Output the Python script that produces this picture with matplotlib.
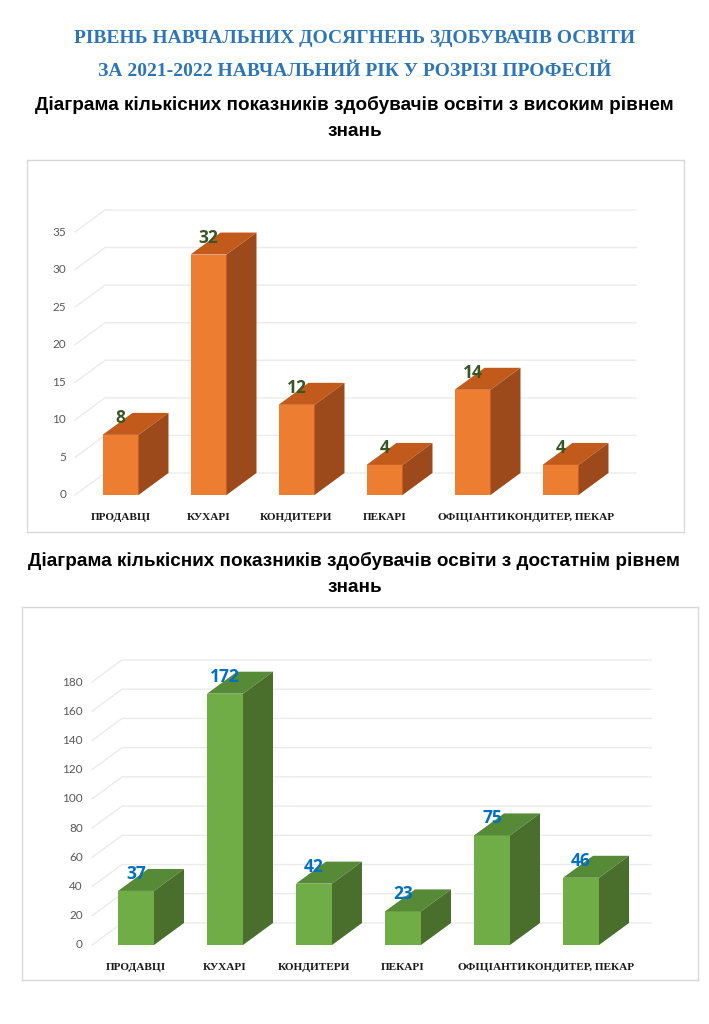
import matplotlib.pyplot as plt
from matplotlib.patches import Polygon

W, H = 709, 1024

# data
professions = ['ПРОДАВЦІ', 'КУХАРІ', 'КОНДИТЕРИ', 'ПЕКАРІ', 'ОФІЦІАНТИ', 'КОНДИТЕР, ПЕКАР']
high_level = [8, 32, 12, 4, 14, 4]
enough_level = [37, 172, 42, 23, 75, 46]
high_ticks = [0, 5, 10, 15, 20, 25, 30, 35]
enough_ticks = [0, 20, 40, 60, 80, 100, 120, 140, 160, 180]

main_title = 'РІВЕНЬ НАВЧАЛЬНИХ ДОСЯГНЕНЬ ЗДОБУВАЧІВ ОСВІТИ\nЗА 2021-2022 НАВЧАЛЬНИЙ РІК У РОЗРІЗІ ПРОФЕСІЙ'
title_high = 'Діаграма кількісних показників здобувачів освіти з високим рівнем\nзнань'
title_enough = 'Діаграма кількісних показників здобувачів освіти з достатнім рівнем\nзнань'

ORANGE = ('#ED7D31', '#C25A1C', '#9C4A1B')
GREEN = ('#70AD47', '#578A36', '#4A6F2C')


def draw_chart(fig, frame, zero_px, top_px, top_val, x0_px, step_px, grid_l, grid_r,
               values, ticks, colors, label_color):
    # frame = (left, top, right, bottom) in pixels
    fl, ft, fr, fb = frame
    ax = fig.add_axes([fl / W, 1 - fb / H, (fr - fl) / W, (fb - ft) / H])
    ppu = (zero_px - top_px) / top_val  # pixels per value unit
    ax.set_ylim(-(fb - zero_px) / ppu, top_val + (top_px - ft) / ppu)
    ax.set_xlim(-(x0_px - fl) / step_px, (fr - x0_px) / step_px)
    ax.set_xticks([])
    ax.set_yticks([])
    for s in ax.spines.values():
        s.set_color('#D9D9D9')
        s.set_linewidth(1)

    dx = 30 / step_px
    dy = 22 / ppu
    w = 36 / step_px
    gl = (grid_l - x0_px) / step_px
    gr = (grid_r - x0_px) / step_px

    # gridlines: side wall diagonal + back wall
    for t in ticks:
        ax.plot([gl, gl + dx, gr], [t, t + dy, t + dy], color='#EBEBEB', lw=1, zorder=1)
        ax.text(gl - 9 / step_px, t, str(t), ha='right', va='center',
                fontsize=8.5, color='#595959', family='Lato')

    xs = list(range(len(values)))
    ax.bar(xs, values, width=w, color=colors[0], zorder=3)
    for x, v in zip(xs, values):
        xl = x - w / 2
        top = Polygon([(xl, v), (xl + w, v), (xl + w + dx, v + dy), (xl + dx, v + dy)],
                      closed=True, facecolor=colors[1], edgecolor='none', zorder=3)
        side = Polygon([(xl + w, 0), (xl + w + dx, dy), (xl + w + dx, v + dy), (xl + w, v)],
                       closed=True, facecolor=colors[2], edgecolor='none', zorder=3)
        ax.add_patch(top)
        ax.add_patch(side)
        ax.text(x, v + 17 / ppu, str(v), ha='center', va='center', fontsize=12.5,
                fontweight='bold', color=label_color, family='Open Sans', zorder=4)
        ax.text(x, -23 / ppu, professions[x], ha='center', va='center', fontsize=8.1,
                fontweight='bold', color='#1a1a1a', family='Liberation Serif')
    return ax


fig = plt.figure(figsize=(W / 100, H / 100), dpi=100)

fig.text(0.5, 1 - 55 / H, main_title, ha='center', va='center', fontsize=14,
         fontweight='bold', color='#2E75B6', family='Liberation Serif', linespacing=2.2)
fig.text(0.5, 1 - 118 / H, title_high, ha='center', va='center', fontsize=13.6,
         fontweight='bold', color='black', family='Liberation Sans', linespacing=1.7)
fig.text(0.5, 1 - 574 / H, title_enough, ha='center', va='center', fontsize=13.6,
         fontweight='bold', color='black', family='Liberation Sans', linespacing=1.7)

draw_chart(fig, (27, 160, 684, 532), 495, 232, 35, 120.5, 88, 75, 636,
           high_level, high_ticks, ORANGE, '#375623')
draw_chart(fig, (22, 607, 698, 980), 945, 682, 180, 136, 89, 92, 651,
           enough_level, enough_ticks, GREEN, '#0070C0')

fig.savefig('out.png', dpi=100)
